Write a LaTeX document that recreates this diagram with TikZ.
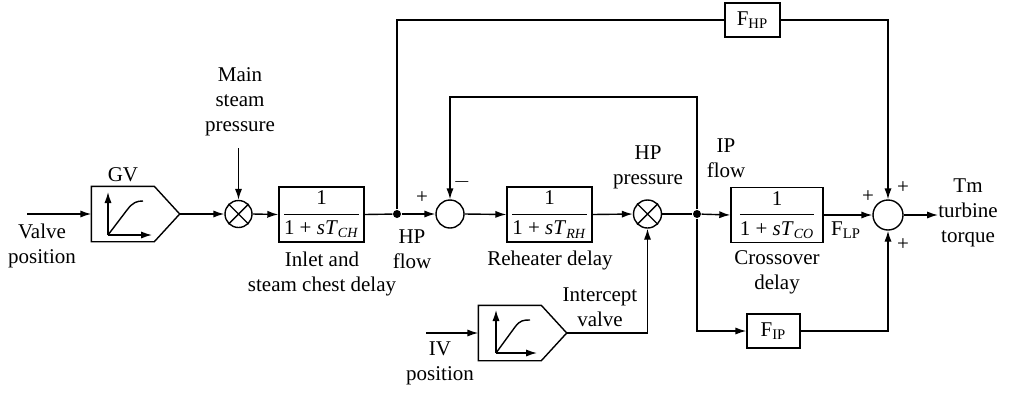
\documentclass[tikz,border=0pt]{standalone}
\usepackage{amsmath}
\usepackage{fontspec}
\setmainfont{Liberation Serif}
\usetikzlibrary{arrows.meta,calc}
\begin{document}
\begin{tikzpicture}[x=0.5pt,y=-0.5pt,line width=0.7pt,
  every node/.style={font=\fontsize{10.5}{12.5}\selectfont},
  arr/.style={-{Latex[length=5.5pt,width=3.6pt]}},
  lbl/.style={align=center,inner sep=0pt},
  tfbox/.style={draw,minimum height=27.5pt,inner sep=1pt},
  limbox/.style={minimum width=43.5pt,minimum height=27pt,inner sep=0pt},
  sumc/.style={circle,draw,minimum size=14pt,inner sep=0pt},
  dotj/.style={circle,fill,minimum size=4pt,inner sep=0pt},
  gbox/.style={draw,minimum width=27.5pt,minimum height=17pt,inner sep=1pt}]
\useasboundingbox (0,0) rectangle (1021,392);

% ---- nodes ----
\coordinate (vin) at (27,214);
\node[limbox] (gv) at (135.5,214) {};
\node[sumc,minimum size=13.5pt] (m1) at (238.5,214) {};
\coordinate (msp) at (238.5,148);
\node[tfbox,minimum width=42.5pt] (ch) at (321.5,214.5) {$\dfrac{\mbox{1}}{\mbox{1 + \textit{sT}}_{\mbox{\scriptsize\textit{CH}}}}$};
\node[dotj] (j1) at (397,214) {};
\node[sumc] (s1) at (450,214) {};
\node[tfbox,minimum width=42.5pt] (rh) at (549.5,214.5) {$\dfrac{\mbox{1}}{\mbox{1 + \textit{sT}}_{\mbox{\scriptsize\textit{RH}}}}$};
\node[sumc] (m2) at (647.5,214) {};
\node[dotj] (j2) at (697,214) {};
\node[tfbox,minimum width=46pt] (co) at (777,215) {$\dfrac{\mbox{1}}{\mbox{1 + \textit{sT}}_{\mbox{\scriptsize\textit{CO}}}}$};
\node[sumc,minimum size=15pt] (s2) at (888,215) {};
\coordinate (out) at (938,215);
\node[gbox] (fhp) at (752.5,20) {F\textsubscript{HP}};
\node[gbox,minimum width=26.5pt] (fip) at (773.5,331) {F\textsubscript{IP}};
\node[limbox] (iv) at (522.5,333) {};
\coordinate (ivin) at (426,333);

% ---- limiter shapes ----
\draw (gv.north west) -- ++(63,0) -- (gv.east) -- ($(gv.south west)+(63,0)$) -- (gv.south west) -- cycle;
\draw[arr] (108,235) -- (108,192);
\draw[arr] (108,235) -- (152,235);
\draw (108,235) -- (127,210) .. controls (133,202) and (137,201) .. (143,201);

\draw (iv.north west) -- ++(63,0) -- (iv.east) -- ($(iv.south west)+(63,0)$) -- (iv.south west) -- cycle;
\draw[arr] (496,353) -- (496,310);
\draw[arr] (496,353) -- (537,353);
\draw (496,353) -- (515,327) .. controls (520,320) and (524,320) .. (530,320);

% ---- multipliers ----
\draw (m1.north west) -- (m1.south east) (m1.north east) -- (m1.south west);
\draw (m2.north west) -- (m2.south east) (m2.north east) -- (m2.south west);

% ---- connectors ----
\draw[arr] (vin) -- (gv.west);
\draw[arr] (gv.east) -- (m1.west);
\draw[arr] (msp) -- (m1.north);
\draw[arr] (m1.east) -- (ch.west);
\draw (ch.east) -- (j1);
\draw[arr] (j1) -- (s1.west);
\draw[arr] (s1.east) -- (rh.west);
\draw[arr] (rh.east) -- (m2.west);
\draw (m2.east) -- (j2);
\draw[arr] (j2) -- (co.west);
\draw[arr] (co.east) -- (s2.west);
\draw[arr] (s2.east) -- (out);
\draw (j1) |- (fhp.west);
\draw[arr] (fhp.east) -| (s2.north);
\draw[arr] (j2) -- (697,97) -| (s1.north);
\draw[arr] (j2) |- (fip.west);
\draw[arr] (fip.east) -| (s2.south);
\draw[arr] (ivin) -- (iv.west);
\draw[arr] (iv.east) -| (m2.south);

% ---- labels ----
\node[lbl] at (123,175) {GV};
\node[lbl] at (42,246) {Valve\\position};
\node[lbl] at (240,102) {Main\\steam\\pressure};
\node[lbl] at (322,274) {Inlet and\\steam chest delay};
\node[lbl] at (412,249) {HP\\flow};
\node[lbl] at (422,198) {+};
\node[lbl] at (462,182) {$-$};
\node[lbl] at (550,260) {Reheater delay};
\node[lbl] at (648,167) {HP\\pressure};
\node[lbl] at (726,158) {IP\\flow};
\node[lbl] at (777,272) {Crossover\\delay};
\node[lbl] at (846,230) {F\textsubscript{LP}};
\node[lbl] at (868,197) {+};
\node[lbl] at (903,188) {+};
\node[lbl] at (903,245) {+};
\node[lbl] at (968,213) {Tm\\turbine\\torque};
\node[lbl] at (440,363) {IV\\position};
\node[lbl] at (600,307) {Intercept\\valve};
\end{tikzpicture}
\end{document}
